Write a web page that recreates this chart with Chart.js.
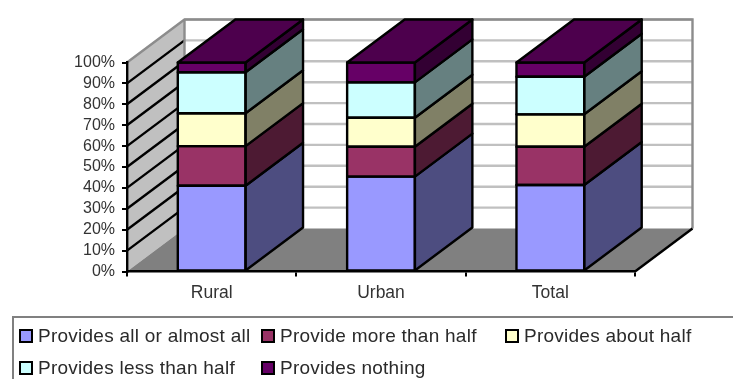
<!DOCTYPE html>
<html>
<head>
<meta charset="utf-8">
<title>Stacked columns</title>
<script src="https://cdn.jsdelivr.net/npm/chart.js@4/dist/chart.umd.min.js"></script>
<style>
  html, body { margin: 0; padding: 0; background: #fff; overflow: hidden; width: 733px; height: 379px; }
  #wrap { position: relative; width: 733px; height: 379px; overflow: hidden; }
  canvas { position: absolute; left: 0; top: 0; }
  #key { position: absolute; left: 12px; top: 316px; width: 800px; height: 100px; box-sizing: border-box;
         border: 2px solid #808080; font-family: "Liberation Sans", Arial, sans-serif; font-size: 19px; color: #2a2a2a; }
  .item { position: absolute; white-space: nowrap; line-height: 20px; }
  .swatch { position: absolute; top: 3px; left: 0; width: 14px; height: 14px; box-sizing: border-box; border: 2.5px solid #000; }
  .label { position: absolute; left: 19px; top: 0; letter-spacing: .25px; }
</style>
</head>
<body>
<div id="wrap">
  <canvas id="chart" width="733" height="379"></canvas>
  <div id="key"></div>
</div>
<script>
const categories = ['Rural', 'Urban', 'Total'];
const seriesNames = ['Provides all or almost all', 'Provide more than half', 'Provides about half', 'Provides less than half', 'Provides nothing'];
const allOrAlmostAll = [41.0, 45.4, 41.4];
const moreThanHalf = [19.0, 14.3, 18.3];
const aboutHalf = [15.7, 13.9, 15.5];
const lessThanHalf = [19.6, 16.9, 18.0];
const nothing = [4.7, 9.5, 6.8];
const seriesValues = [allOrAlmostAll, moreThanHalf, aboutHalf, lessThanHalf, nothing];

const frontColors = ['#9999FF', '#993366', '#FFFFCC', '#CCFFFF', '#660066'];
const sideColors = ['#4D4D80', '#4D1A33', '#808066', '#668080', '#330033'];
const topColor = '#4D004D';
const depthX = 57.5;
const depthY = 43;
const inkWidth = 2.4;

function poly(ctx, pts, fill, stroke, lw) {
  ctx.beginPath();
  pts.forEach((p, i) => i ? ctx.lineTo(p[0], p[1]) : ctx.moveTo(p[0], p[1]));
  ctx.closePath();
  if (fill) { ctx.fillStyle = fill; ctx.fill(); }
  if (stroke) { ctx.strokeStyle = stroke; ctx.lineWidth = lw; ctx.lineJoin = 'round'; ctx.stroke(); }
}

// Walls and floor of the box sit behind everything else.
const roomPlugin = {
  id: 'room',
  beforeDraw(chart) {
    const { ctx, scales: { x, y } } = chart;
    const l = x.left, r = x.right, b = y.getPixelForValue(0), t = y.getPixelForValue(100);
    ctx.save();
    poly(ctx, [[l + depthX, t - depthY], [r + depthX, t - depthY], [r + depthX, b - depthY], [l + depthX, b - depthY]], '#FFFFFF');
    poly(ctx, [[l, b], [l + depthX, b - depthY], [l + depthX, t - depthY], [l, t]], '#C0C0C0');
    poly(ctx, [[l, b], [l + depthX, b - depthY], [r + depthX, b - depthY], [r, b]], '#808080');
    y.ticks.forEach(tick => {
      const py = y.getPixelForValue(tick.value);
      if (tick.value > 0) {
        ctx.lineWidth = 2.4;
        ctx.strokeStyle = '#C0C0C0';
        ctx.beginPath();
        ctx.moveTo(l + depthX, py - depthY);
        ctx.lineTo(r + depthX, py - depthY);
        ctx.stroke();
      }
      if (tick.value > 0 && tick.value < 100) {
        ctx.lineWidth = inkWidth;
        ctx.strokeStyle = '#000';
        ctx.beginPath();
        ctx.moveTo(l, py);
        ctx.lineTo(l + depthX, py - depthY);
        ctx.stroke();
      }
    });
    // Outer frame of the walls
    ctx.strokeStyle = '#8C8C8C';
    ctx.lineWidth = 2.4;
    ctx.beginPath();
    ctx.moveTo(l, t);
    ctx.lineTo(l + depthX, t - depthY);
    ctx.lineTo(r + depthX, t - depthY);
    ctx.lineTo(r + depthX, b - depthY);
    ctx.moveTo(l + depthX, t - depthY);
    ctx.lineTo(l + depthX, b - depthY);
    ctx.stroke();
    ctx.strokeStyle = '#000';
    ctx.lineWidth = inkWidth;
    ctx.beginPath();
    ctx.moveTo(r, b);
    ctx.lineTo(r + depthX, b - depthY);
    ctx.stroke();
    ctx.restore();
  }
};

// Side and top faces are extruded from the rectangles of each bar.
const extrudePlugin = {
  id: 'extrude',
  afterDatasetsDraw(chart) {
    const ctx = chart.ctx;
    ctx.save();
    chart.data.datasets.forEach((ds, i) => {
      chart.getDatasetMeta(i).data.forEach(bar => {
        const left = bar.x - bar.width / 2, right = bar.x + bar.width / 2;
        poly(ctx, [[right, bar.base], [right + depthX, bar.base - depthY], [right + depthX, bar.y - depthY], [right, bar.y]], sideColors[i], '#000', inkWidth);
        poly(ctx, [[left, bar.base], [right, bar.base], [right, bar.y], [left, bar.y]], null, '#000', inkWidth);
        if (i === chart.data.datasets.length - 1) {
          poly(ctx, [[left, bar.y], [left + depthX, bar.y - depthY], [right + depthX, bar.y - depthY], [right, bar.y]], topColor, '#000', inkWidth);
        }
      });
    });
    ctx.restore();
  }
};

new Chart(document.getElementById('chart'), {
  type: 'bar',
  data: {
    labels: categories,
    datasets: seriesNames.map((name, i) => ({
      label: name,
      data: seriesValues[i],
      backgroundColor: frontColors[i],
      borderWidth: 0,
      barPercentage: 0.4,
      categoryPercentage: 1
    }))
  },
  plugins: [roomPlugin, extrudePlugin],
  options: {
    responsive: false,
    animation: false,
    devicePixelRatio: 1,
    layout: { padding: { left: 0, right: 98, top: 62.5, bottom: 67.5 } },
    plugins: { legend: { display: false }, tooltip: { enabled: false } },
    scales: {
      x: {
        stacked: true,
        afterFit(s) { s.height = 40; },
        border: { color: '#000', width: 2.4 },
        grid: { drawOnChartArea: false, color: '#000', lineWidth: 2, tickLength: 5 },
        ticks: { color: '#333', padding: 6, maxRotation: 0, font: { family: '"Liberation Sans", Arial, sans-serif', size: 17.5 } }
      },
      y: {
        stacked: true,
        min: 0,
        max: 100,
        afterFit(s) { s.width = 127; },
        border: { color: '#000', width: 2.4 },
        grid: { drawOnChartArea: false, color: '#000', lineWidth: 2, tickLength: 5 },
        ticks: { stepSize: 10, autoSkip: false, color: '#333', padding: 7, callback: v => v + '%', font: { family: '"Liberation Sans", Arial, sans-serif', size: 16 } }
      }
    }
  }
});

// Two-row key in a box that runs off the page edge
const keySlots = [[5, 8], [247, 8], [491, 8], [5, 40], [247, 40]];
const key = document.getElementById('key');
seriesNames.forEach((name, i) => {
  const item = document.createElement('div');
  item.className = 'item';
  item.style.left = keySlots[i][0] + 'px';
  item.style.top = keySlots[i][1] + 'px';
  const swatch = document.createElement('span');
  swatch.className = 'swatch';
  swatch.style.background = frontColors[i];
  const label = document.createElement('span');
  label.className = 'label';
  label.textContent = name;
  item.append(swatch, label);
  key.appendChild(item);
});
</script>
</body>
</html>
